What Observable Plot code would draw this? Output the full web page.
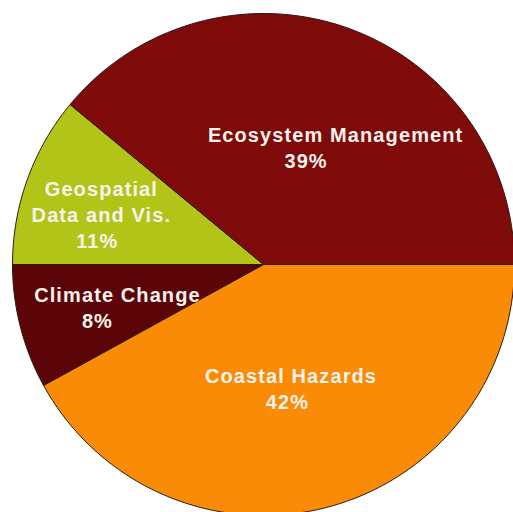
<!DOCTYPE html>
<html>
<head>
<meta charset="utf-8">
<script src="https://cdn.jsdelivr.net/npm/d3@7"></script>
<script src="https://cdn.jsdelivr.net/npm/@observablehq/plot@0.6"></script>
<style>
  html, body { margin: 0; padding: 0; background: #ffffff; }
  #chart svg text { letter-spacing: 1.1px; }
</style>
</head>
<body>
<div id="chart"></div>
<script>
// ---- data ----
const categories = ["Coastal Hazards", "Climate Change", "Geospatial\nData and Vis.", "Ecosystem Management"];
const shares = [42, 8, 11, 39];
const colors = ["#f98b07", "#5c0508", "#b3c418", "#7f0a0a"];

// ---- label layout (fraction of radius along slice mid-angle, pixel nudges) ----
const labelRadius = [0.505, 0.681, 0.441, 0.501];
const nameShiftPx = [-4, 19.5, -58, 29.5];
const pctShiftPx = [-7.5, -0.5, -62, 0];

const W = 513, H = 512, cx = 263, cy = 264, Rpx = 251, LH = 26;

const total = d3.sum(shares);
let cum = 0;
const slices = categories.map((name, i) => {
  const start = -2 * Math.PI * cum / total;
  cum += shares[i];
  const end = -2 * Math.PI * cum / total;
  return {name, value: shares[i], start, end, i};
});

const pts = [];
for (const s of slices) {
  const n = Math.max(2, Math.ceil(Math.abs(s.end - s.start) / (2 * Math.PI) * 360));
  pts.push({name: s.name, x: 0, y: 0});
  for (let k = 0; k <= n; k++) {
    const t = s.start + (s.end - s.start) * k / n;
    pts.push({name: s.name, x: Math.cos(t), y: Math.sin(t)});
  }
  pts.push({name: s.name, x: 0, y: 0});
}

const labels = slices.map(s => {
  const mid = (s.start + s.end) / 2;
  const r = labelRadius[s.i];
  const ax = r * Math.cos(mid), ay = r * Math.sin(mid);
  const lines = s.name.split("\n").length;
  return {
    name: s.name,
    pct: s.value + "%",
    nx: ax + nameShiftPx[s.i] / Rpx,
    ny: ay + (lines * LH / 2) / Rpx,
    px: ax + pctShiftPx[s.i] / Rpx,
    py: ay - (LH / 2) / Rpx
  };
});

const textStyle = {
  fill: "#f7f2ec",
  fontSize: 20,
  fontWeight: "bold",
  fontFamily: "'Liberation Sans', Arial, sans-serif",
  lineHeight: 1.3,
  lineAnchor: "middle",
  textAnchor: "middle"
};

const chart = Plot.plot({
  width: W,
  height: H,
  margin: 0,
  style: {background: "#ffffff"},
  x: {domain: [-cx / Rpx, (W - cx) / Rpx], range: [0, W], axis: null},
  y: {domain: [(cy - H) / Rpx, cy / Rpx], range: [H, 0], axis: null},
  color: {domain: categories, range: colors},
  marks: [
    Plot.line(pts, {x: "x", y: "y", z: "name", fill: "name", stroke: "#2b1a12", strokeWidth: 1, curve: "linear"}),
    Plot.text(labels, {x: "nx", y: "ny", text: "name", ...textStyle}),
    Plot.text(labels, {x: "px", y: "py", text: "pct", ...textStyle})
  ]
});
document.getElementById("chart").appendChild(chart);
</script>
</body>
</html>
